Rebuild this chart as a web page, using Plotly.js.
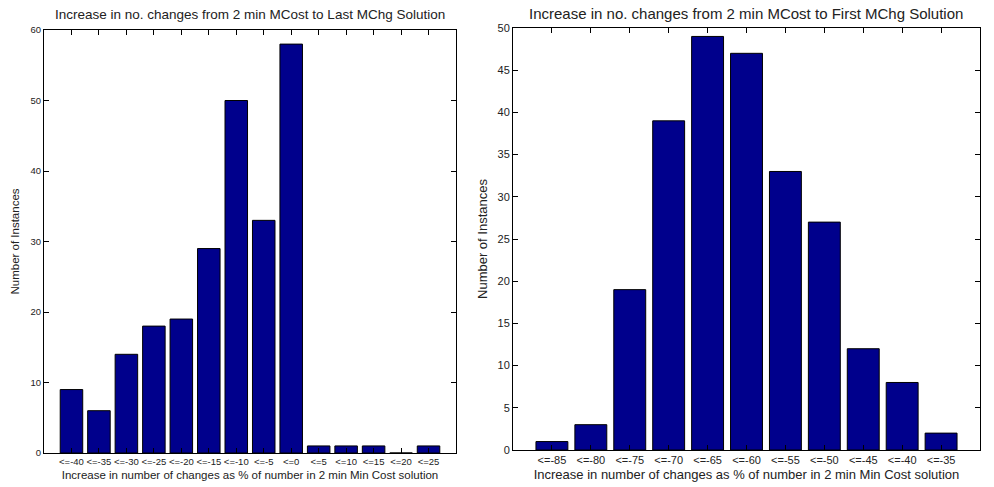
<!DOCTYPE html>
<html><head><meta charset="utf-8">
<script src="https://cdn.plot.ly/plotly-3.0.1.min.js"></script>
<style>html,body{margin:0;padding:0;background:#fff}#c{width:994px;height:487px}</style>
</head><body><div id="c"></div>
<script>
const leftCats = ["<=-40","<=-35","<=-30","<=-25","<=-20","<=-15","<=-10","<=-5","<=0","<=5","<=10","<=15","<=20","<=25"];
const leftVals = [9,6,14,18,19,29,50,33,58,1,1,1,0,1];
const rightCats = ["<=-85","<=-80","<=-75","<=-70","<=-65","<=-60","<=-55","<=-50","<=-45","<=-40","<=-35"];
const rightVals = [1,3,19,39,49,47,33,27,12,8,2];
const leftTitle = "Increase in no. changes from 2 min MCost to Last MChg Solution";
const rightTitle = "Increase in no. changes from 2 min MCost to First MChg Solution";
const xLabel = "Increase in number of changes as % of number in 2 min Min Cost solution";
const yLabel = "Number of Instances";

const W=994,H=487;
const barColor = "#00008C";
const font = "Liberation Sans, Arial, sans-serif";
function xa(px0,px1,n,size){return {domain:[px0/W,px1/W],type:"category",range:[-1,n],showline:true,linecolor:"#000",linewidth:1,mirror:"ticks",ticks:"inside",ticklen:5,tickcolor:"#000",tickfont:{family:font,size:size,color:"#222"},showgrid:false,zeroline:false,fixedrange:true};}
function ya(py0,py1,max,dt,size){return {domain:[(H-py1)/H,(H-py0)/H],range:[0,max],dtick:dt,showline:true,linecolor:"#000",linewidth:1,mirror:"ticks",ticks:"inside",ticklen:5,tickcolor:"#000",tickfont:{family:font,size:size,color:"#222"},showgrid:false,zeroline:false,fixedrange:true};}

const traces=[
 {type:"bar",x:leftCats,y:leftVals,xaxis:"x",yaxis:"y",width:0.82,marker:{color:barColor,line:{color:"#000",width:1}},hoverinfo:"x+y"},
 {type:"bar",x:rightCats,y:rightVals,xaxis:"x2",yaxis:"y2",width:0.82,marker:{color:barColor,line:{color:"#000",width:1}},hoverinfo:"x+y"}
];
const lx=xa(44,456,14,9.5); lx.title={text:xLabel,font:{family:font,size:11.5,color:"#222"},standoff:4};
const ly=ya(30,453,60,10,9.5); ly.title={text:yLabel,font:{family:font,size:11.5,color:"#222"},standoff:8};
const rx=xa(513,980,11,11); rx.title={text:xLabel,font:{family:font,size:13,color:"#222"},standoff:4}; rx.anchor="y2";
const ry=ya(28,450,50,5,11); ry.title={text:yLabel,font:{family:font,size:13,color:"#222"},standoff:6}; ry.anchor="x2";
const layout={width:W,height:H,margin:{l:0,r:0,t:0,b:0},paper_bgcolor:"#fff",plot_bgcolor:"#fff",showlegend:false,bargap:0.18,
 xaxis:lx,yaxis:ly,xaxis2:rx,yaxis2:ry,
 annotations:[
  {text:leftTitle,x:250/W,y:1-15/H,xref:"paper",yref:"paper",showarrow:false,xanchor:"center",yanchor:"middle",font:{family:font,size:13.5,color:"#222"}},
  {text:rightTitle,x:746/W,y:1-14/H,xref:"paper",yref:"paper",showarrow:false,xanchor:"center",yanchor:"middle",font:{family:font,size:15,color:"#222"}}
 ]};
Plotly.newPlot("c",traces,layout,{displayModeBar:false,staticPlot:true});
</script></body></html>
